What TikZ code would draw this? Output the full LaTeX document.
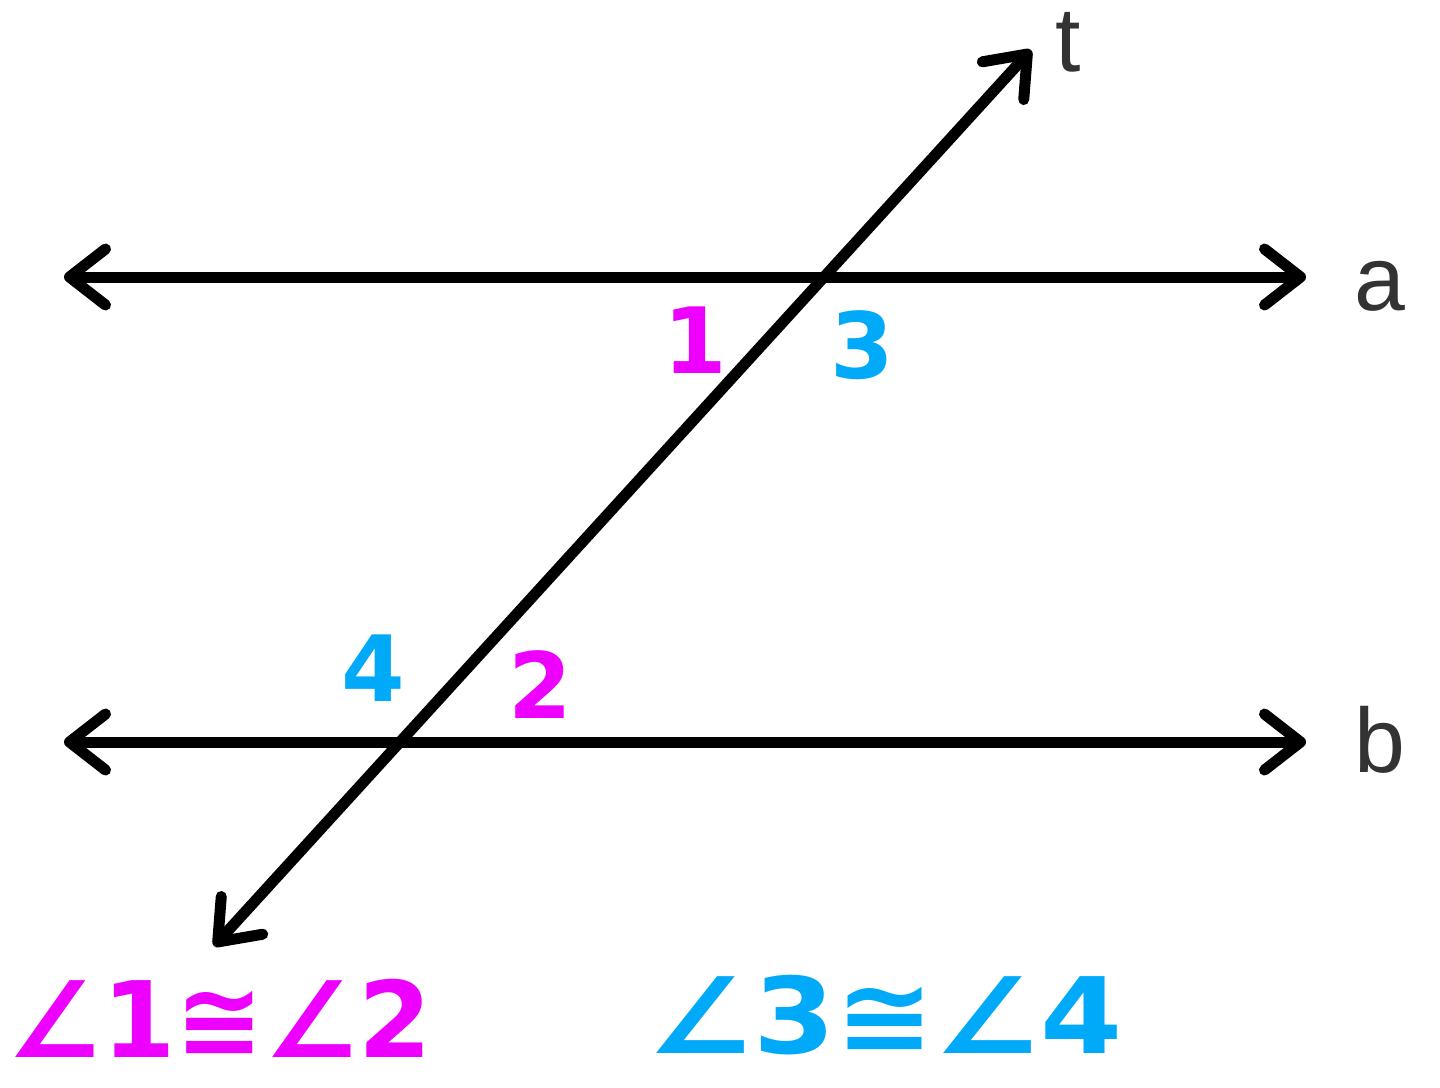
\documentclass[tikz,border=0pt]{standalone}
\usepackage{fontspec}
\setmainfont{Liberation Sans}
\newfontfamily\handfont{DejaVu Sans}
\usetikzlibrary{arrows.meta}
\definecolor{angpink}{HTML}{EE00FF}
\definecolor{angblue}{HTML}{00AAF8}
\definecolor{lblgray}{HTML}{333333}
\tikzset{
  rayline/.style={line width=1.1mm, line cap=round,
    {Straight Barb[length=3.6mm,width=5.6mm,round]}-{Straight Barb[length=3.6mm,width=5.6mm,round]}},
  linelbl/.style={text=lblgray, font=\fontsize{26}{30}\selectfont, inner sep=0pt},
  anglbl/.style={font=\handfont\bfseries\fontsize{26}{30}\selectfont, inner sep=0pt},
  eqlbl/.style={font=\handfont\bfseries\fontsize{30}{36}\selectfont, inner sep=0pt}
}
\begin{document}
\begin{tikzpicture}[x=0.01cm,y=-0.01cm]
  \useasboundingbox (0,0) rectangle (1440,1087);
  % End points of the lines
  \coordinate (aL) at (64,277);
  \coordinate (aR) at (1306,277);
  \coordinate (bL) at (64,742);
  \coordinate (bR) at (1306,742);
  \coordinate (tL) at (214,946);
  \coordinate (tR) at (1031,50);
  % Parallel lines and transversal
  \draw[rayline] (aL) -- (aR);
  \draw[rayline] (bL) -- (bR);
  \draw[rayline] (tL) -- (tR);
  % Line names
  \node[linelbl] (ta) at (1068,42) {t};
  \node[linelbl] (la) at (1380,286) {a};
  \node[linelbl] (lb) at (1380,740) {b};
  % Angle numbers
  \node[anglbl, text=angpink] (n1) at (695,340) {1};
  \node[anglbl, text=angblue] (n3) at (862,345) {3};
  \node[anglbl, text=angblue] (n4) at (373,668) {4};
  \node[anglbl, text=angpink] (n2) at (540,685) {2};
  % Congruent pairs
  \node[eqlbl, text=angpink] (eq12) at (220,1018) {∠1≅∠2};
  \node[eqlbl, text=angblue, xscale=1.12] (eq34) at (885,1015) {∠3≅∠4};
\end{tikzpicture}
\end{document}
